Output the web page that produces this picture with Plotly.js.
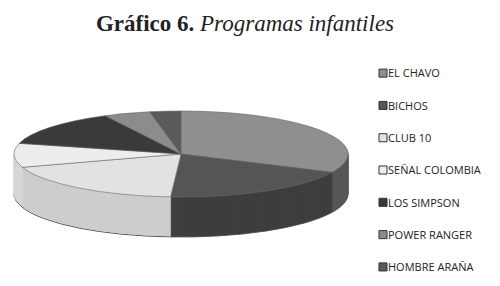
<!DOCTYPE html>
<html>
<head>
<meta charset="utf-8">
<script src="https://cdn.plot.ly/plotly-3.0.1.min.js"></script>
<style>
html,body{margin:0;padding:0;background:#fff;}
#chart{width:500px;height:286px;}
.pielayer path{vector-effect:non-scaling-stroke;}
.legend path.legendpie{stroke:#333 !important;stroke-width:1px !important;vector-effect:non-scaling-stroke;}
</style>
</head>
<body>
<div id="chart"></div>
<script>
// Data
var labels = ["EL CHAVO", "BICHOS", "CLUB 10", "SEÑAL COLOMBIA", "LOS SIMPSON", "POWER RANGER", "HOMBRE ARAÑA"];
var values = [32, 19, 19, 9, 13.5, 4.5, 3];
var topColors = ["#8f8f8f", "#555555", "#e2e2e2", "#ededed", "#3a3a3a", "#8c8c8c", "#5a5a5a"];
var sideColors = ["#565656", "#3e3e3e", "#cdcdcd", "#d6d6d6", "#2e2e2e", "#6c6c6c", "#444444"];

// Geometry (unscaled pie, later flattened into an ellipse)
var W = 500, H = 286;
var R = 80;
var target = {cx: 181, cy: 154, rx: 167, ry: 43, depth: 40};
var sx = target.rx / R, sy = target.ry / R;
var dUnscaled = target.depth / sy;
var domX = [0.1, 0.1 + 2 * R / W];
var topY = [1 - 2 * R / H, 1];
var nLayers = 40;
var legendRowStep = 32.3;

var traces = [];
for (var k = nLayers; k >= 1; k--) {
  var off = dUnscaled * k / nLayers / H;
  traces.push({
    type: "pie", labels: labels, values: values, sort: false,
    direction: "clockwise", rotation: 0, textinfo: "none", hoverinfo: "skip",
    showlegend: false,
    marker: {colors: sideColors, line: {color: (k === nLayers ? sideColors.map(function(){return "#555";}) : sideColors), width: 1}},
    domain: {x: domX, y: [topY[0] - off, topY[1] - off]}
  });
}
traces.push({
  type: "pie", labels: labels, values: values, sort: false,
  direction: "clockwise", rotation: 0, textinfo: "none", hoverinfo: "skip",
  marker: {colors: topColors, line: {color: "#6a6a6a", width: 0.6}},
  domain: {x: domX, y: topY}
});

var layout = {
  width: W, height: H,
  margin: {l: 0, r: 0, t: 0, b: 0},
  paper_bgcolor: "#fff",
  title: {
    text: "<b>Gráfico 6.</b> <i>Programas infantiles</i>",
    font: {family: "Liberation Serif, serif", size: 23, color: "#222"},
    x: 0.49, xanchor: "center", y: 0.92, yanchor: "middle"
  },
  legend: {
    x: 0.696, y: 0.795, xanchor: "left", yanchor: "top",
    bgcolor: "rgba(0,0,0,0)",
    font: {family: "Open Sans, sans-serif", size: 11, color: "#222"},
    itemwidth: 30
  },
  showlegend: true
};

Plotly.newPlot("chart", traces, layout, {staticPlot: true}).then(function(gd) {
  var cx0 = W * (domX[0] + domX[1]) / 2;
  var cy0 = H * (1 - (topY[0] + topY[1]) / 2);
  var pl = gd.querySelector(".pielayer");
  pl.setAttribute("transform",
    "translate(" + target.cx + "," + target.cy + ") scale(" + sx + "," + sy + ") translate(" + (-cx0) + "," + (-cy0) + ")");

  // legend: wider row spacing and smaller symbols close to the text
  var sb = gd.querySelector(".legend .scrollbox");
  if (sb) sb.removeAttribute("clip-path");
  var items = gd.querySelectorAll(".legend .traces");
  function parseT(s) {
    var m = /translate\(\s*([-\d.e]+)[ ,]+([-\d.e]+)\s*\)/.exec(s || "");
    return m ? {x: +m[1], y: +m[2]} : {x: 0, y: 0};
  }
  if (items.length) {
    var t0 = parseT(items[0].getAttribute("transform"));
    items.forEach(function(el, i) {
      el.setAttribute("transform", "translate(" + t0.x + "," + (t0.y + i * legendRowStep) + ")");
    });
  }
  gd.querySelectorAll(".legend path.legendpie").forEach(function(p) {
    var t = parseT(p.getAttribute("transform"));
    p.setAttribute("transform", "translate(" + (t.x + 15) + "," + t.y + ") scale(0.67)");
  });
});
</script>
</body>
</html>
